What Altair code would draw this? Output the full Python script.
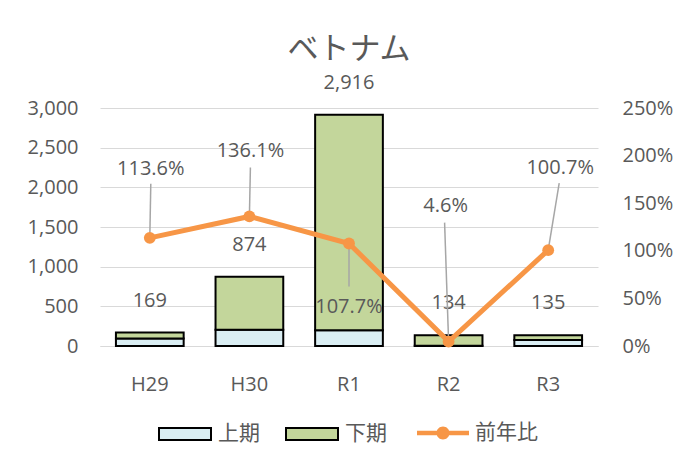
import altair as alt
import pandas as pd

# ---------------- data ----------------
categories = ["H29", "H30", "R1", "R2", "R3"]
totals = [169, 874, 2916, 134, 135]
first_half = [95, 205, 200, 3, 75]          # 上期
second_half = [t - f for t, f in zip(totals, first_half)]  # 下期
yoy = [1.136, 1.361, 1.077, 0.046, 1.007]   # 前年比
yoy_labels = ["113.6%", "136.1%", "107.7%", "4.6%", "100.7%"]
series_names = ["上期", "下期"]
line_name = "前年比"
left_ticks = [0, 500, 1000, 1500, 2000, 2500, 3000]
right_ticks = [0, 0.5, 1.0, 1.5, 2.0, 2.5]

# label callout offsets in pixels (styling)
label_dx = [1, 1, 0, -3, 12]
label_dy = [-69, -65, 64, -136, -82]
leader_dx = [1, 1, 0, -4, 11]
leader_dy = [-54, -49, 43, -119, -67]

NUM_FONT = "Open Sans"
JP_FONT = "Noto Sans CJK JP"
GREY = "#595959"
C_FIRST = "#DAEEF3"
C_SECOND = "#C3D69B"
C_LINE = "#F79646"
FS = 20

bar_rows = []
for c, f, s in zip(categories, first_half, second_half):
    bar_rows.append({"cat": c, "series": series_names[0], "value": f, "ord": 0})
    bar_rows.append({"cat": c, "series": series_names[1], "value": s, "ord": 1})
bar_df = pd.DataFrame(bar_rows)
tot_df = pd.DataFrame({"cat": categories, "value": totals})
line_df = pd.DataFrame({"cat": categories, "ratio": yoy, "label": yoy_labels,
                        "series": [line_name] * len(categories)})

X = alt.X("cat:N", sort=categories, title=None,
          scale=alt.Scale(paddingInner=0.32, paddingOuter=0.16),
          axis=alt.Axis(labelFont=NUM_FONT, labelFontSize=FS, labelColor=GREY,
                        ticks=False, tickSize=0, labelPadding=28, labelAngle=0,
                        domainColor="#D9D9D9", domainWidth=1, grid=False))
YL_SCALE = alt.Scale(domain=[0, 3000], nice=False)
YR_SCALE = alt.Scale(domain=[0, 2.5], nice=False)
YL_AXIS = alt.Axis(values=left_ticks, format=",d", labelFont=NUM_FONT,
                   labelFontSize=FS, labelColor=GREY, ticks=False,
                   labelPadding=22, domain=False, gridColor="#D9D9D9",
                   gridWidth=1)
YR_AXIS = alt.Axis(orient="right", values=right_ticks, format=".0%",
                   labelFont=NUM_FONT, labelFontSize=FS, labelColor=GREY,
                   ticks=False, labelPadding=24, domain=False, grid=False)

rect_path = "M-1,-0.23L1,-0.23L1,0.23L-1,0.23Z"
line_path = ("M-1,-0.09L1,-0.09L1,0.09L-1,0.09Z "
             "M-0.25,0A0.25,0.25,0,1,1,0.25,0A0.25,0.25,0,1,1,-0.25,0Z")

bars = alt.Chart(bar_df).mark_bar(stroke="black", strokeWidth=2).encode(
    x=X,
    y=alt.Y("value:Q", stack="zero", scale=YL_SCALE, title=None, axis=YL_AXIS),
    color=alt.Color("series:N", scale=alt.Scale(domain=series_names,
                                                range=[C_FIRST, C_SECOND]),
                    legend=alt.Legend(title=None, orient="none", legendX=58,
                                      legendY=299, direction="horizontal",
                                      symbolType=rect_path, symbolSize=2704,
                                      symbolStrokeColor="black",
                                      symbolStrokeWidth=2, labelFont=JP_FONT,
                                      labelFontSize=21, labelColor=GREY,
                                      labelOffset=6, columnPadding=22)),
    order=alt.Order("ord:Q"),
)

tot_text = alt.Chart(tot_df).mark_text(dy=-32, font=NUM_FONT, fontSize=FS,
                                        color=GREY, baseline="middle").encode(
    x=X,
    y=alt.Y("value:Q", scale=YL_SCALE, title=None, axis=YL_AXIS),
    text=alt.Text("value:Q", format=",d"),
)

left = alt.layer(bars, tot_text)

YR = alt.Y("ratio:Q", scale=YR_SCALE, title=None, axis=YR_AXIS)

right_layers = []
for i, c in enumerate(categories):
    right_layers.append(
        alt.Chart(line_df).transform_filter(alt.datum.cat == c).mark_rule(
            color="#A6A6A6", strokeWidth=1.5,
            x2Offset=leader_dx[i], y2Offset=leader_dy[i]).encode(
            x=X, x2=alt.X2("cat"), y=YR, y2=alt.Y2("ratio"))
    )

line = alt.Chart(line_df).mark_line(color=C_LINE, strokeWidth=5).encode(x=X, y=YR)
points = alt.Chart(line_df).mark_circle(size=140, opacity=1).encode(
    x=X, y=YR,
    fill=alt.Fill("series:N", scale=alt.Scale(domain=[line_name], range=[C_LINE]),
                  legend=alt.Legend(title=None, orient="none", legendX=317,
                                    legendY=299, direction="horizontal",
                                    symbolType=line_path, symbolSize=2704,
                                    symbolStrokeWidth=0, labelFont=JP_FONT,
                                    labelFontSize=21, labelColor=GREY,
                                    labelOffset=6)),
)
right_layers += [line, points]
for i, c in enumerate(categories):
    right_layers.append(
        alt.Chart(line_df).transform_filter(alt.datum.cat == c).mark_text(
            dx=label_dx[i], dy=label_dy[i], font=NUM_FONT, fontSize=FS,
            color=GREY, baseline="middle").encode(
            x=X, y=YR, text="label:N")
    )
right = alt.layer(*right_layers)

chart = alt.layer(left, right).resolve_scale(
    y="independent", color="independent", fill="independent"
).properties(
    width=498, height=238,
    background="white",
    title=alt.Title("ベトナム", font=JP_FONT, fontSize=31, color=GREY,
                    fontWeight="normal", offset=7, anchor="middle"),
    autosize=alt.AutoSizeParams(type="none"),
    padding={"left": 92, "top": 100, "right": 77, "bottom": 112},
).configure_view(stroke=None)

chart.save("out.html", embed_options={"renderer": "svg", "actions": False})
